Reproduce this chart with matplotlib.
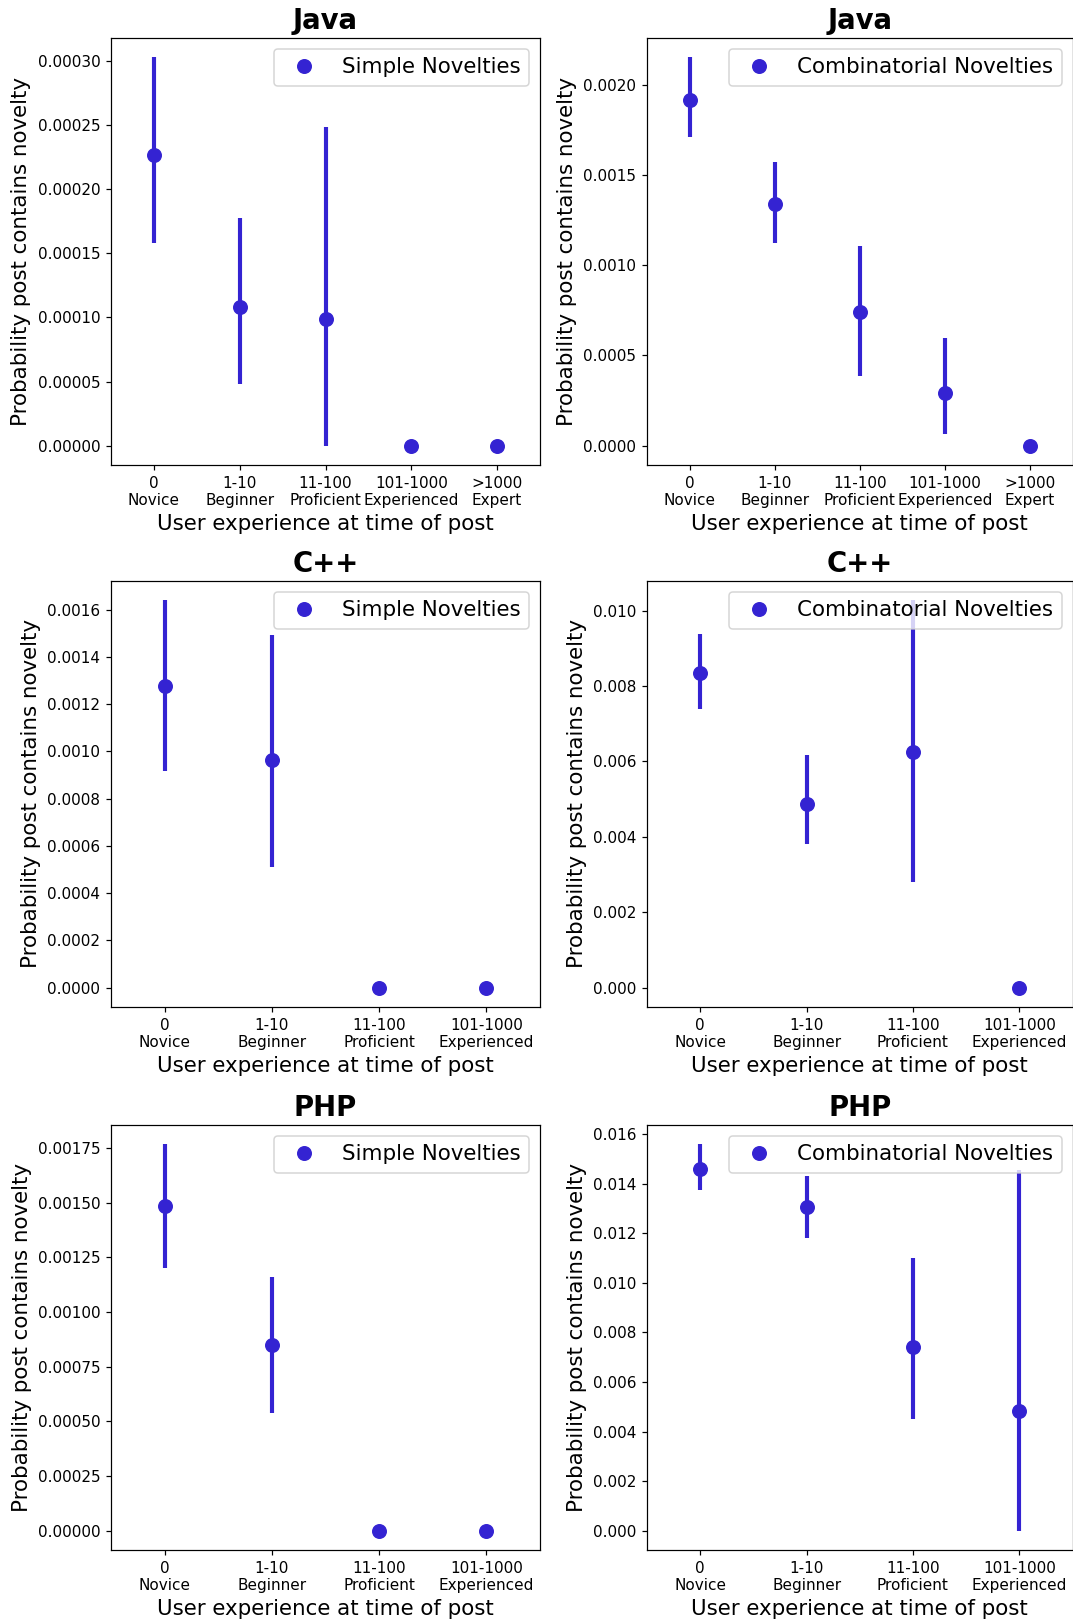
import matplotlib
matplotlib.use("Agg")
import matplotlib.pyplot as plt
from matplotlib.ticker import MultipleLocator

# Experience buckets (tick labels)
levels_5 = ["0\nNovice", "1-10\nBeginner", "11-100\nProficient",
            "101-1000\nExperienced", ">1000\nExpert"]
levels_4 = levels_5[:4]

# Java - simple novelties: estimate and 95% CI bounds
java_simple = [0.000227, 0.0001078, 0.0000992, 0.0, 0.0]
java_simple_lo = [0.0001585, 0.0000477, 0.0, 0.0, 0.0]
java_simple_hi = [0.000303, 0.000178, 0.0002488, 0.0, 0.0]

# Java - combinatorial novelties
java_comb = [0.00192, 0.001338, 0.00074, 0.000291, 0.0]
java_comb_lo = [0.001713, 0.001124, 0.000386, 0.0000665, 0.0]
java_comb_hi = [0.002154, 0.001576, 0.001105, 0.000595, 0.0]

# C++ - simple novelties
cpp_simple = [0.001277, 0.000964, 0.0, 0.0]
cpp_simple_lo = [0.000917, 0.00051, 0.0, 0.0]
cpp_simple_hi = [0.001639, 0.001491, 0.0, 0.0]

# C++ - combinatorial novelties
cpp_comb = [0.008358, 0.004882, 0.006252, 0.0]
cpp_comb_lo = [0.007387, 0.003802, 0.002795, 0.0]
cpp_comb_hi = [0.009374, 0.006171, 0.010272, 0.0]

# PHP - simple novelties
php_simple = [0.001486, 0.000851, 0.0, 0.0]
php_simple_lo = [0.001202, 0.00054, 0.0, 0.0]
php_simple_hi = [0.001767, 0.00116, 0.0, 0.0]

# PHP - combinatorial novelties
php_comb = [0.014602, 0.013066, 0.00741, 0.00483]
php_comb_lo = [0.013758, 0.011826, 0.00452, 0.0]
php_comb_hi = [0.015585, 0.0143, 0.01098, 0.01455]

COLOR = "#3423d2"
DPI = 110

# (title, legend label, categories, estimate, lower, upper, y tick step)
panels = [
    ("Java", "Simple Novelties", levels_5, java_simple, java_simple_lo, java_simple_hi, None),
    ("Java", "Combinatorial Novelties", levels_5, java_comb, java_comb_lo, java_comb_hi, None),
    ("C++", "Simple Novelties", levels_4, cpp_simple, cpp_simple_lo, cpp_simple_hi, 0.0002),
    ("C++", "Combinatorial Novelties", levels_4, cpp_comb, cpp_comb_lo, cpp_comb_hi, None),
    ("PHP", "Simple Novelties", levels_4, php_simple, php_simple_lo, php_simple_hi, None),
    ("PHP", "Combinatorial Novelties", levels_4, php_comb, php_comb_lo, php_comb_hi, None),
]

W, H = 1073, 1623
fig = plt.figure(figsize=(W / DPI, H / DPI), dpi=DPI)

col_x = [(111, 540), (647, 1072.5)]
row_y = [(38, 465), (581, 1007), (1125, 1550)]

for i, (title, label, cats, est, lo, hi, step) in enumerate(panels):
    r, c = divmod(i, 2)
    x0, x1 = col_x[c]
    y0, y1 = row_y[r]
    ax = fig.add_axes([x0 / W, 1 - y1 / H, (x1 - x0) / W, (y1 - y0) / H])
    xs = list(range(len(cats)))
    ax.vlines(xs, lo, hi, color=COLOR, linewidth=2.7, capstyle="butt", zorder=2)
    ax.plot(xs, est, "o", color=COLOR, markersize=8.8, linestyle="none",
            label=label, zorder=3)
    ax.set_xticks(xs)
    ax.set_xticklabels(cats, fontsize=10)
    ax.tick_params(axis="y", labelsize=10)
    if step is not None:
        ax.yaxis.set_major_locator(MultipleLocator(step))
    ax.set_xlim(-0.5, len(cats) - 0.5)
    ax.set_title(title, fontsize=18, fontweight="bold")
    ax.set_xlabel("User experience at time of post", fontsize=14)
    ax.set_ylabel("Probability post contains novelty", fontsize=14)
    ax.legend(loc="upper right", fontsize=14)

fig.savefig("out.png", dpi=DPI)
